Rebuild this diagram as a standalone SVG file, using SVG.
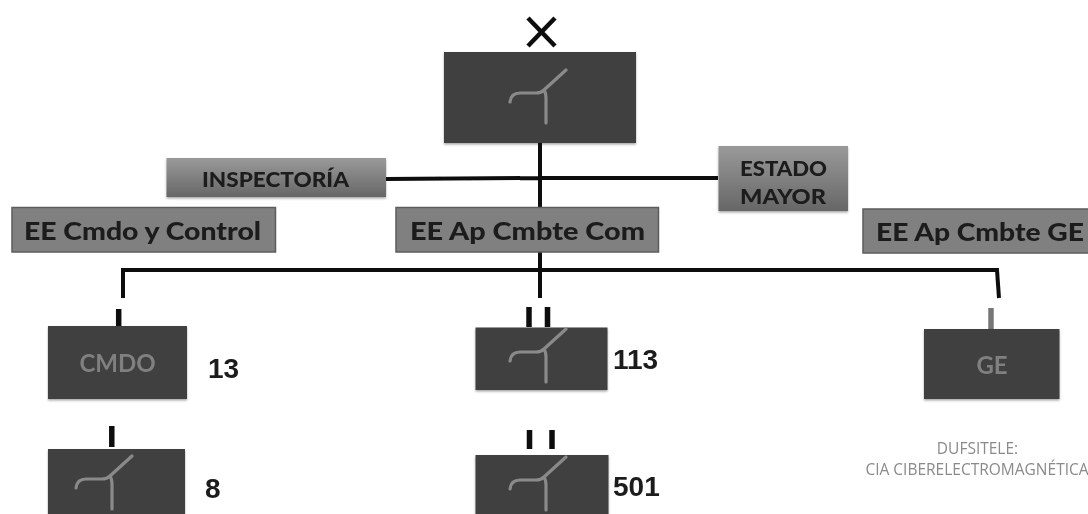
<svg xmlns="http://www.w3.org/2000/svg" width="1088" height="514" viewBox="0 0 1088 514">
<defs>
<linearGradient id="g" x1="0" y1="0" x2="0" y2="1"><stop offset="0" stop-color="#9a9a9a"/><stop offset="0.5" stop-color="#808080"/><stop offset="1" stop-color="#666"/></linearGradient>
<filter id="soft" x="-2%" y="-2%" width="104%" height="104%"><feGaussianBlur stdDeviation="0.7"/></filter>
<filter id="sh" x="-5%" y="-5%" width="110%" height="115%"><feDropShadow dx="0" dy="1.500" stdDeviation="1.200" flood-color="#000" flood-opacity="0.35"/></filter>
<symbol id="icon" overflow="visible"><path d="M0 9 Q1 0 10 0 L26 0 Q31 0 34 -3 L56 -23 M34 -3 Q36 0 36 6 L36 30" fill="none" stroke="#8a8a8a" stroke-width="3.200" stroke-linecap="round"/></symbol>
</defs>
<style>
.dark{fill:#3f3f3f;filter:url(#sh)}
.ee{fill:#808080;stroke:#5c5c5c;stroke-width:1.500}
.grad{fill:url(#g);filter:url(#sh)}
.t{font-family:"Lato","Open Sans","Liberation Sans",sans-serif;font-weight:900;fill:#1c1c1c;text-anchor:middle}
.n{font-family:"Liberation Sans",Arial,sans-serif;font-weight:700;font-size:28px;fill:#1a1a1a}
.in{font-family:"Lato","Open Sans",sans-serif;font-weight:700;fill:#808080;text-anchor:middle;font-size:24px}
.c{stroke:#111;stroke-width:4;fill:none}
.s{stroke:#111;stroke-width:5.500;fill:none}
.note{font-family:"Open Sans","Liberation Sans",sans-serif;font-size:15.500px;fill:#8a8a8a;text-anchor:middle}
</style>
<rect width="1088" height="514" fill="#fff"/>
<g filter="url(#soft)">
<g id="connectors">
<path class="c" d="M540 143V207M386 179 L540 178 H718M540 252V298M123 298V270H997L999 298"/>
<path class="s" d="M118.700 309V326M111.800 426V447M529 307V327M547.500 307V327M529.500 430V449M552 430V449"/>
<path d="M991 308V329" stroke="#777" stroke-width="5.500" fill="none"/>
</g>
<g id="node-x"><path d="M528 18 L555 46 M555 18 L528 46" stroke="#111" stroke-width="4.500" fill="none"/></g>
<g id="node-top"><rect class="dark" x="444" y="52" width="192" height="91"/><use href="#icon" x="510" y="93"/></g>
<g id="node-inspectoria"><rect class="grad" x="166.500" y="158" width="219.500" height="39"/><text class="t" x="275.500" y="187" font-size="21" textLength="147" lengthAdjust="spacingAndGlyphs">INSPECTORÍA</text></g>
<g id="node-estado"><rect class="grad" x="718.500" y="146" width="129.500" height="65"/><text class="t" x="783.500" y="176" font-size="21" textLength="87" lengthAdjust="spacingAndGlyphs">ESTADO</text><text class="t" x="783" y="204" font-size="21" textLength="86" lengthAdjust="spacingAndGlyphs">MAYOR</text></g>
<g id="node-ee-cmdo"><rect class="ee" x="12" y="207.500" width="263.500" height="44.500"/><text class="t" x="142.500" y="240" font-size="25" textLength="237" lengthAdjust="spacingAndGlyphs">EE Cmdo y Control</text></g>
<g id="node-ee-com"><rect class="ee" x="396" y="207.500" width="262.500" height="44.500"/><text class="t" x="527.500" y="240" font-size="25" textLength="235" lengthAdjust="spacingAndGlyphs">EE Ap Cmbte Com</text></g>
<g id="node-ee-ge"><rect class="ee" x="863" y="209" width="226" height="44"/><text class="t" x="980" y="241" font-size="25" textLength="208" lengthAdjust="spacingAndGlyphs">EE Ap Cmbte GE</text></g>
<g id="node-cmdo"><rect class="dark" x="48" y="326" width="139" height="73"/><text class="in" x="117.500" y="372">CMDO</text></g>
<g id="label-13"><text class="n" x="208" y="378">13</text></g>
<g id="node-113"><rect class="dark" x="475.500" y="327.500" width="132" height="62.500"/><use href="#icon" x="510" y="352"/></g>
<g id="label-113"><text class="n" x="613" y="369">113</text></g>
<g id="node-ge"><rect class="dark" x="924" y="329" width="135.500" height="70"/><text class="in" x="992" y="374">GE</text></g>
<g id="node-8"><rect class="dark" x="48" y="449" width="137" height="70"/><use href="#icon" x="76" y="479"/></g>
<g id="label-8"><text class="n" x="205" y="498">8</text></g>
<g id="node-501"><rect class="dark" x="475.500" y="455" width="133" height="64"/><use href="#icon" x="510" y="480"/></g>
<g id="label-501"><text class="n" x="613" y="496">501</text></g>
<g id="note"><text class="note" x="977.500" y="454">DUFSITELE:</text><text class="note" x="977" y="475">CIA CIBERELECTROMAGNÉTICA</text></g>
</g>
</svg>
